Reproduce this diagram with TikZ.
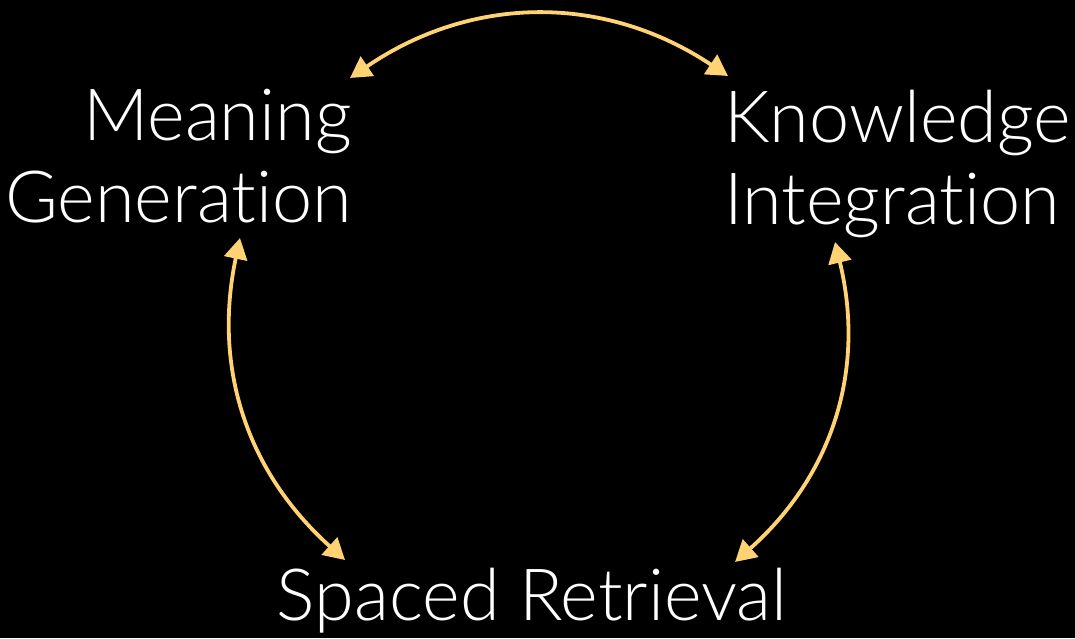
\documentclass[tikz,border=0pt]{standalone}
\usepackage{fontspec}
\setmainfont{Lato Light}[Ligatures=NoCommon]
\usepackage{tikz}
\usetikzlibrary{arrows.meta,positioning}
\definecolor{cyclegold}{HTML}{FFD273}
\tikzstyle{stage}=[text=white,inner sep=0,font=\fontsize{72}{82}\selectfont]
\tikzstyle{cycle}=[line width=3.8pt,draw=cyclegold,{Triangle[length=21pt,width=23pt]}-{Triangle[length=21pt,width=23pt]}]

\begin{document}
\begin{tikzpicture}[x=1pt,y=1pt]

	\fill[black] (0,0) rectangle (1075,638);
	\useasboundingbox (0,0) rectangle (1075,638);

	\node[stage, align=right, anchor=base east] (mean) at (352,415) {Meaning\\Generation};
	\node[stage, align=left, anchor=base west] (know) at (724,413) {Knowledge\\Integration};
	\node[stage, anchor=base] (retr) at (532,18) {Spaced Retrieval};

	\draw[cycle] ([shift={(-2,145)}]mean.base east) to[bend left=34] ([shift={(4,149)}]know.base west);
	\draw[cycle] ([shift={(-112,-15)}]mean.base east) to[bend right=30] ([shift={(-187,60)}]retr.base);
	\draw[cycle] ([shift={(111,-17)}]know.base west) to[bend left=31] ([shift={(203,58)}]retr.base);

\end{tikzpicture}
\end{document}
